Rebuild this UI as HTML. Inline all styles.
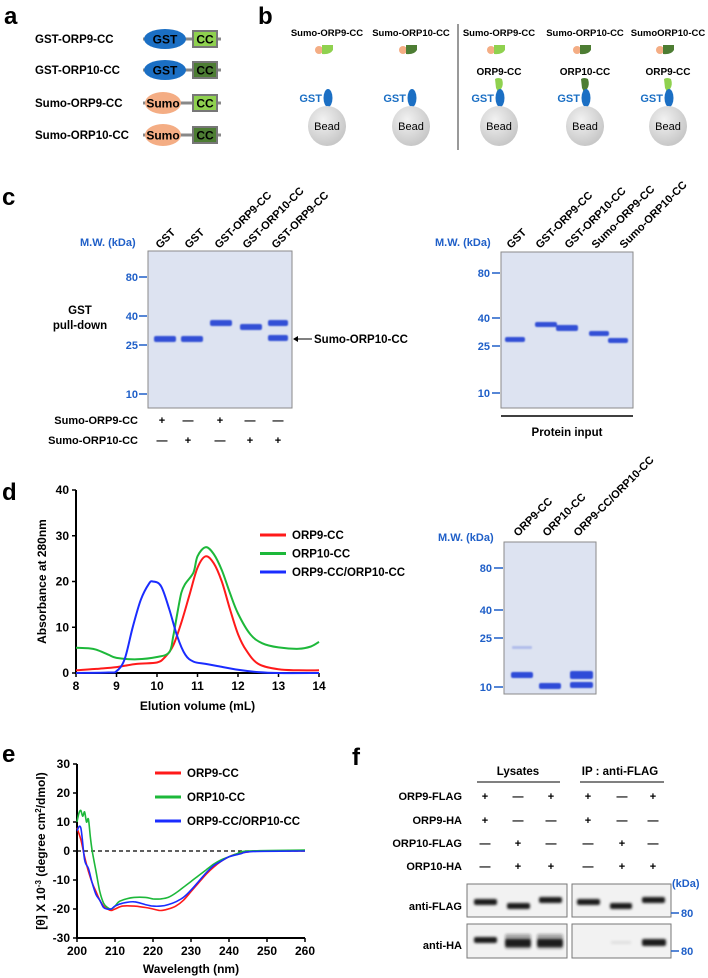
<!DOCTYPE html>
<html><head><meta charset="utf-8">
<style>
html,body{margin:0;padding:0;background:#fff;}
svg{display:block;font-family:"Liberation Sans",Arial,sans-serif;}
.b{font-weight:bold;}
.mw{fill:#1f5fc8;font-weight:bold;font-size:11px;}
</style></head>
<body>
<svg id="fig" width="708" height="978" viewBox="0 0 708 978" xmlns="http://www.w3.org/2000/svg">
<defs>
<filter id="blur1" x="-20%" y="-100%" width="140%" height="300%"><feGaussianBlur stdDeviation="0.9"/></filter>
<filter id="blur2" x="-20%" y="-100%" width="140%" height="300%"><feGaussianBlur stdDeviation="1.2"/></filter>
<radialGradient id="bead" cx="40%" cy="35%" r="70%"><stop offset="0" stop-color="#f2f2f2"/><stop offset="1" stop-color="#c4c4c4"/></radialGradient>
</defs>

<!-- Panel a -->
<g>
<text x="4" y="24" class="b" font-size="24">a</text>
<g font-size="11.5" class="b">
<text x="35" y="43">GST-ORP9-CC</text>
<text x="35" y="74">GST-ORP10-CC</text>
<text x="35" y="107">Sumo-ORP9-CC</text>
<text x="35" y="139">Sumo-ORP10-CC</text>
</g>
<g>
<line x1="143" y1="39" x2="221" y2="39" stroke="#888" stroke-width="3"/>
<ellipse cx="165" cy="39" rx="21" ry="10" fill="#1b6fc4"/><text x="165" y="43.5" text-anchor="middle" font-size="12" class="b">GST</text>
<rect x="193" y="31" width="24" height="16" fill="#8fd14f" stroke="#777" stroke-width="2"/><text x="205" y="43.5" text-anchor="middle" font-size="12" class="b">CC</text>
</g>
<g>
<line x1="143" y1="70" x2="221" y2="70" stroke="#888" stroke-width="3"/>
<ellipse cx="165" cy="70" rx="21" ry="10" fill="#1b6fc4"/><text x="165" y="74.5" text-anchor="middle" font-size="12" class="b">GST</text>
<rect x="193" y="62" width="24" height="16" fill="#4d7d33" stroke="#777" stroke-width="2"/><text x="205" y="74.5" text-anchor="middle" font-size="12" class="b">CC</text>
</g>
<g>
<line x1="143" y1="103" x2="221" y2="103" stroke="#888" stroke-width="3"/>
<ellipse cx="163" cy="103" rx="18" ry="11" fill="#f4ad84"/><text x="163" y="107.5" text-anchor="middle" font-size="12" class="b">Sumo</text>
<rect x="193" y="95" width="24" height="16" fill="#8fd14f" stroke="#777" stroke-width="2"/><text x="205" y="107.5" text-anchor="middle" font-size="12" class="b">CC</text>
</g>
<g>
<line x1="143" y1="135" x2="221" y2="135" stroke="#888" stroke-width="3"/>
<ellipse cx="163" cy="135" rx="18" ry="11" fill="#f4ad84"/><text x="163" y="139.5" text-anchor="middle" font-size="12" class="b">Sumo</text>
<rect x="193" y="127" width="24" height="16" fill="#4d7d33" stroke="#777" stroke-width="2"/><text x="205" y="139.5" text-anchor="middle" font-size="12" class="b">CC</text>
</g>
</g>

<!-- Panel b -->
<g id="panelb">
<text x="258" y="24" class="b" font-size="24">b</text>
<line x1="458" y1="24" x2="458" y2="150" stroke="#777" stroke-width="1.5"/>
</g>

<!-- Panel c -->
<g>
<text x="2" y="205" class="b" font-size="24">c</text>
<text x="80" y="246" class="mw">M.W. (kDa)</text>
<rect x="148" y="251" width="144" height="157" fill="#dde3f1" stroke="#8a8a8a" stroke-width="1"/>
<g class="mw">
<text x="138" y="281" text-anchor="end">80</text><line x1="139" y1="277" x2="147" y2="277" stroke="#1f5fc8" stroke-width="1.5"/>
<text x="138" y="320" text-anchor="end">40</text><line x1="139" y1="316" x2="147" y2="316" stroke="#1f5fc8" stroke-width="1.5"/>
<text x="138" y="349" text-anchor="end">25</text><line x1="139" y1="345" x2="147" y2="345" stroke="#1f5fc8" stroke-width="1.5"/>
<text x="138" y="398" text-anchor="end">10</text><line x1="139" y1="394" x2="147" y2="394" stroke="#1f5fc8" stroke-width="1.5"/>
</g>
<g fill="#3350d6" filter="url(#blur1)">
<rect x="154" y="336" width="22" height="6" rx="2"/>
<rect x="181" y="336" width="22" height="6" rx="2"/>
<rect x="210" y="320" width="22" height="6" rx="2"/>
<rect x="240" y="324" width="22" height="6" rx="2"/>
<rect x="268" y="320" width="20" height="6" rx="2"/>
<rect x="268" y="335" width="20" height="6" rx="2"/>
</g>
<g font-size="11" class="b">
<text transform="translate(160,249) rotate(-45)">GST</text>
<text transform="translate(189,249) rotate(-45)">GST</text>
<text transform="translate(219,249) rotate(-45)">GST-ORP9-CC</text>
<text transform="translate(247,249) rotate(-45)">GST-ORP10-CC</text>
<text transform="translate(276,249) rotate(-45)">GST-ORP9-CC</text>
</g>
<text x="80" y="314" text-anchor="middle" font-size="11.5" class="b">GST</text>
<text x="80" y="329" text-anchor="middle" font-size="11.5" class="b">pull-down</text>
<line x1="296" y1="339" x2="312" y2="339" stroke="#000" stroke-width="1"/>
<path d="M293,339 l5,-3 v6 z" fill="#000"/>
<text x="314" y="343" font-size="11.5" class="b">Sumo-ORP10-CC</text>
<g font-size="11" class="b" id="pmrows">
<text x="138" y="424" text-anchor="end">Sumo-ORP9-CC</text>
<text x="138" y="444" text-anchor="end">Sumo-ORP10-CC</text>
</g>

<text x="435" y="246" class="mw">M.W. (kDa)</text>
<rect x="501" y="252" width="132" height="156" fill="#dde3f1" stroke="#8a8a8a" stroke-width="1"/>
<g class="mw">
<text x="490" y="277" text-anchor="end">80</text><line x1="492" y1="273" x2="500" y2="273" stroke="#1f5fc8" stroke-width="1.5"/>
<text x="490" y="322" text-anchor="end">40</text><line x1="492" y1="318" x2="500" y2="318" stroke="#1f5fc8" stroke-width="1.5"/>
<text x="490" y="350" text-anchor="end">25</text><line x1="492" y1="346" x2="500" y2="346" stroke="#1f5fc8" stroke-width="1.5"/>
<text x="490" y="397" text-anchor="end">10</text><line x1="492" y1="393" x2="500" y2="393" stroke="#1f5fc8" stroke-width="1.5"/>
</g>
<g fill="#3350d6" filter="url(#blur1)">
<rect x="505" y="337" width="20" height="5" rx="2"/>
<rect x="535" y="322" width="22" height="5" rx="2"/>
<rect x="556" y="325" width="22" height="6" rx="2"/>
<rect x="589" y="331" width="20" height="5" rx="2"/>
<rect x="608" y="338" width="20" height="5" rx="2"/>
</g>
<g font-size="11" class="b">
<text transform="translate(511,249) rotate(-45)">GST</text>
<text transform="translate(540,249) rotate(-45)">GST-ORP9-CC</text>
<text transform="translate(569,249) rotate(-45)">GST-ORP10-CC</text>
<text transform="translate(596,249) rotate(-45)">Sumo-ORP9-CC</text>
<text transform="translate(624,249) rotate(-45)">Sumo-ORP10-CC</text>
</g>
<line x1="501" y1="416" x2="633" y2="416" stroke="#000" stroke-width="1.5"/>
<text x="567" y="436" text-anchor="middle" font-size="11.5" class="b">Protein input</text>
</g>

<!-- Panel d -->
<g>
<text x="2" y="500" class="b" font-size="24">d</text>
<g id="chartd"></g>
<text x="438" y="541" class="mw">M.W. (kDa)</text>
<rect x="504" y="542" width="92" height="152" fill="#dde3f1" stroke="#8a8a8a" stroke-width="1"/>
<g class="mw">
<text x="492" y="572" text-anchor="end">80</text><line x1="494" y1="568" x2="503" y2="568" stroke="#1f5fc8" stroke-width="1.5"/>
<text x="492" y="614" text-anchor="end">40</text><line x1="494" y1="610" x2="503" y2="610" stroke="#1f5fc8" stroke-width="1.5"/>
<text x="492" y="642" text-anchor="end">25</text><line x1="494" y1="638" x2="503" y2="638" stroke="#1f5fc8" stroke-width="1.5"/>
<text x="492" y="691" text-anchor="end">10</text><line x1="494" y1="687" x2="503" y2="687" stroke="#1f5fc8" stroke-width="1.5"/>
</g>
<g fill="#2f4bd8" filter="url(#blur1)">
<rect x="512" y="646" width="20" height="3" rx="1" opacity="0.25"/>
<rect x="511" y="672" width="22" height="6" rx="2"/>
<rect x="539" y="683" width="22" height="6" rx="2"/>
<rect x="570" y="671" width="23" height="8" rx="2"/>
<rect x="570" y="682" width="23" height="6" rx="2"/>
</g>
<g font-size="11" class="b">
<text transform="translate(518,537) rotate(-45)">ORP9-CC</text>
<text transform="translate(547,537) rotate(-45)">ORP10-CC</text>
<text transform="translate(578,537) rotate(-45)">ORP9-CC/ORP10-CC</text>
</g>
</g>

<!-- Panel e -->
<g>
<text x="2" y="762" class="b" font-size="24">e</text>
<g id="charte"></g>
</g>

<!-- Panel f -->
<g>
<text x="352" y="765" class="b" font-size="24">f</text>
<text x="518" y="775" text-anchor="middle" font-size="11.5" class="b">Lysates</text>
<line x1="477" y1="782" x2="560" y2="782" stroke="#000" stroke-width="1"/>
<text x="620" y="775" text-anchor="middle" font-size="11.5" class="b">IP : anti-FLAG</text>
<line x1="580" y1="782" x2="664" y2="782" stroke="#000" stroke-width="1"/>
<g font-size="11" class="b" id="frows">
<text x="462" y="800" text-anchor="end">ORP9-FLAG</text>
<text x="462" y="824" text-anchor="end">ORP9-HA</text>
<text x="462" y="847" text-anchor="end">ORP10-FLAG</text>
<text x="462" y="870" text-anchor="end">ORP10-HA</text>
<text x="462" y="910" text-anchor="end">anti-FLAG</text>
<text x="462" y="949" text-anchor="end">anti-HA</text>
</g>
<rect x="467" y="884" width="100" height="33" fill="#f2f2f2" stroke="#777"/>
<rect x="572" y="884" width="99" height="33" fill="#f2f2f2" stroke="#777"/>
<rect x="467" y="924" width="100" height="34" fill="#f2f2f2" stroke="#777"/>
<rect x="572" y="924" width="99" height="34" fill="#f2f2f2" stroke="#777"/>
<g fill="#1a1a1a" filter="url(#blur2)">
<rect x="474" y="899" width="23" height="6" rx="2"/>
<rect x="507" y="903" width="23" height="6" rx="2"/>
<rect x="539" y="897" width="23" height="6" rx="2"/>
<rect x="577" y="899" width="23" height="6" rx="2"/>
<rect x="610" y="903" width="22" height="6" rx="2"/>
<rect x="642" y="897" width="23" height="6" rx="2"/>
<rect x="474" y="937" width="23" height="6" rx="2"/>
<rect x="505" y="934" width="26" height="15" rx="2" opacity="0.35"/>
<rect x="505" y="939" width="26" height="8" rx="2"/>
<rect x="537" y="934" width="26" height="15" rx="2" opacity="0.35"/>
<rect x="537" y="939" width="26" height="8" rx="2"/>
<rect x="611" y="941" width="20" height="3" rx="1" opacity="0.08"/>
<rect x="642" y="939" width="24" height="7" rx="2"/>
</g>
<text x="672" y="887" class="mw" font-size="11">(kDa)</text>
<line x1="671" y1="913" x2="679" y2="913" stroke="#1f5fc8" stroke-width="1.5"/><text x="681" y="917" class="mw">80</text>
<line x1="671" y1="951" x2="679" y2="951" stroke="#1f5fc8" stroke-width="1.5"/><text x="681" y="955" class="mw">80</text>
</g>
</svg>
<script>
const NS="http://www.w3.org/2000/svg";
function mk(parent,tag,attrs,txt){const e=document.createElementNS(NS,tag);for(const k in attrs)e.setAttribute(k,attrs[k]);if(txt!==undefined)e.textContent=txt;parent.appendChild(e);return e;}

/* ---- Panel b data ---- */
const bCols=["Sumo-ORP9-CC","Sumo-ORP10-CC","Sumo-ORP9-CC","Sumo-ORP10-CC","SumoORP10-CC"];
const bBait=["","","ORP9-CC","ORP10-CC","ORP9-CC"];
const bPreyDark=[false,true,false,true,true];
const bBaitDark=[false,false,false,true,false];
const bX=[327,411,499,585,668];
const pb=document.getElementById('panelb');
bCols.forEach((c,i)=>{
  const x=bX[i];
  let t=mk(pb,'text',{x:x,y:36,'text-anchor':'middle','font-size':'9.5','font-weight':'bold'},c);
  
  
  mk(pb,'circle',{cx:x-8,cy:50,r:4,fill:'#f4ad84'});
  mk(pb,'path',{d:`M${x-5},45 h11 v5 q-3,5 -11,4 z`,fill:bPreyDark[i]?'#4d7d33':'#8fd14f'});
  if(bBait[i]){
    mk(pb,'text',{x:x,y:75,'text-anchor':'middle','font-size':'10','font-weight':'bold'},bBait[i]);
    mk(pb,'path',{d:`M${x-4},79 q3,-2 7,0 q2,6 -1,10 q-1,3 -1,7 h-2 q0,-5 -2,-8 z`,fill:bBaitDark[i]?'#4d7d33':'#8fd14f'});
  }
  mk(pb,'ellipse',{cx:x+1,cy:98,rx:4.5,ry:9,fill:'#1b6fc4'});
  mk(pb,'text',{x:x-5,y:102,'text-anchor':'end','font-size':'11','font-weight':'bold',fill:'#1b6fc4'},'GST');
  let bead=mk(pb,'ellipse',{cx:x,cy:126,rx:19,ry:20,fill:'url(#bead)'});
  
  
  mk(pb,'text',{x:x,y:130,'text-anchor':'middle','font-size':'11'},'Bead');
});

/* ---- plus/minus rows ---- */
const cRow1=["+","—","+","—","—"];
const cRow2=["—","+","—","+","+"];
const cX=[162,188,220,250,278];
const pm=document.getElementById('pmrows');
cRow1.forEach((s,i)=>mk(pm,'text',{x:cX[i],y:424,'text-anchor':'middle'},s));
cRow2.forEach((s,i)=>mk(pm,'text',{x:cX[i],y:444,'text-anchor':'middle'},s));
const fRows=[["+","—","+","+","—","+"],["+","—","—","+","—","—"],["—","+","—","—","+","—"],["—","+","+","—","+","+"]];
const fRowY=[800,824,847,870];
const fX=[485,518,551,588,622,653];
const fr=document.getElementById('frows');
fRows.forEach((r,j)=>r.forEach((s,i)=>mk(fr,'text',{x:fX[i],y:fRowY[j],'text-anchor':'middle'},s)));

/* ---- Panel d chart data ---- */
const dRedX=[8,8.5,9,9.5,10,10.2,10.4,10.6,10.8,11,11.2,11.4,11.6,11.8,12,12.2,12.5,13,13.5,14];
const dRedY=[0.6,0.9,1.3,2,2.3,3.5,6,11,17,23,25.5,24,20,14,8.5,5,2,0.8,0.6,0.6];
const dGreenX=[8,8.3,8.5,8.8,9,9.5,10,10.3,10.4,10.5,10.6,10.7,10.9,11,11.2,11.4,11.6,11.8,12,12.3,12.6,13,13.5,13.8,14];
const dGreenY=[5.5,5.4,5.1,4,3.3,3,3.5,4.5,8,13,17.5,19.5,22,25.5,27.5,26,22.5,17.5,13,8.5,6.5,5.6,5.3,5.8,6.8];
const dBlueX=[8,8.8,9,9.2,9.4,9.6,9.8,9.9,10.1,10.3,10.5,10.7,10.9,11.2,11.5,12,12.5,13,14];
const dBlueY=[0,0.1,0.4,3,10,16,19.5,20,19,14,8,4,2.5,2,1.5,0.7,0.2,0,0];
const dXTicks=[8,9,10,11,12,13,14];
const dYTicks=[0,10,20,30,40];
const dLegend=["ORP9-CC","ORP10-CC","ORP9-CC/ORP10-CC"];

/* ---- Panel e chart data ---- */
const eRedX=[200,201,202,203,204,205,206,207,208,209,210,212,215,218,220,222,224,226,228,230,232,234,236,238,240,242,245,248,260];
const eRedY=[8,4,-2,-7,-11,-14,-17,-19,-20,-20.5,-20,-19,-19,-19.5,-20,-20.5,-20,-19,-17,-14,-11,-8,-5.5,-3.5,-2,-1,-0.3,0,0];
const eGreenX=[200,200.5,201,201.5,202,202.5,203,203.5,204,205,206,207,208,209,210,211,213,215,218,220,222,224,226,228,230,232,234,236,238,240,242,245,260];
const eGreenY=[10,13,14,12,13.5,10,11,5,0,-7,-14,-18,-19.5,-20,-19,-17.5,-16.5,-16,-16,-16.5,-16.5,-16,-14.5,-12.5,-10.5,-8.5,-6.5,-4.5,-3,-2,-1,0,0.3];
const eBlueX=[200,201,202,203,204,205,206,207,208,209,210,212,215,218,220,222,224,226,228,230,232,234,236,238,240,243,246,260];
const eBlueY=[7,8,-3,-6,-11,-15,-17,-19.5,-20,-20,-19,-18,-17.5,-18.5,-19,-19,-18.5,-17.5,-16,-13.5,-10.5,-7.5,-5,-3.5,-2,-1,-0.2,0];
const eXTicks=[200,210,220,230,240,250,260];
const eYTicks=[-30,-20,-10,0,10,20,30];

function smoothPath(xs,ys,sx,sy){
  const p=xs.map((x,i)=>[sx(x),sy(ys[i])]);
  let d=`M${p[0][0].toFixed(1)},${p[0][1].toFixed(1)}`;
  for(let i=0;i<p.length-1;i++){
    const p0=p[i-1]||p[i],p1=p[i],p2=p[i+1],p3=p[i+2]||p2;
    const c1=[p1[0]+(p2[0]-p0[0])/6,p1[1]+(p2[1]-p0[1])/6];
    const c2=[p2[0]-(p3[0]-p1[0])/6,p2[1]-(p3[1]-p1[1])/6];
    d+=` C${c1[0].toFixed(1)},${c1[1].toFixed(1)} ${c2[0].toFixed(1)},${c2[1].toFixed(1)} ${p2[0].toFixed(1)},${p2[1].toFixed(1)}`;
  }
  return d;
}

function drawChart(g,o){
  const sx=v=>o.x0+(v-o.xmin)/(o.xmax-o.xmin)*(o.x1-o.x0);
  const sy=v=>o.y0-(v-o.ymin)/(o.ymax-o.ymin)*(o.y0-o.y1);
  let a=mk(g,'line',{x1:o.x0,y1:o.y1,x2:o.x0,y2:o.y0,stroke:'#000','stroke-width':2});
  
  
  a=mk(g,'line',{x1:o.x0-1,y1:o.y0,x2:o.x1,y2:o.y0,stroke:'#000','stroke-width':2});
  
  
  o.xt.forEach(v=>{mk(g,'line',{x1:sx(v),y1:o.y0,x2:sx(v),y2:o.y0+4,stroke:'#000','stroke-width':1.5});
    const t=mk(g,'text',{x:sx(v),y:o.y0+17,'text-anchor':'middle','font-size':'12','font-weight':'bold'},String(v));
    
    });
  o.yt.forEach(v=>{mk(g,'line',{x1:o.x0-4,y1:sy(v),x2:o.x0,y2:sy(v),stroke:'#000','stroke-width':1.5});
    const t=mk(g,'text',{x:o.x0-7,y:sy(v)+4,'text-anchor':'end','font-size':'12','font-weight':'bold'},String(v));
    
    });
  if(o.dash){const z=mk(g,'line',{x1:o.x0,y1:sy(0),x2:o.x1,y2:sy(0),stroke:'#000','stroke-width':1.2,'stroke-dasharray':'4,3'});
    
    }
  o.series.forEach(s=>{const p=mk(g,'path',{d:smoothPath(s.x,s.y,sx,sy),fill:'none',stroke:s.c,'stroke-width':o.lw});
    
    });
  let t=mk(g,'text',{x:(o.x0+o.x1)/2,y:o.xlY,'text-anchor':'middle','font-size':'12','font-weight':'bold'},o.xl);
  
  
  t=mk(g,'text',{transform:`translate(${o.ylX},${(o.y0+o.y1)/2}) rotate(-90)`,'text-anchor':'middle','font-size':'12','font-weight':'bold'});
  
  
  t.innerHTML=o.yl;
  o.series.forEach((s,i)=>{const yy=o.lgY+i*o.lgDy;
    const l=mk(g,'line',{x1:o.lgX,y1:yy,x2:o.lgX+26,y2:yy,stroke:s.c,'stroke-width':3});
    
    
    const lt=mk(g,'text',{x:o.lgX+32,y:yy+4,'font-size':'11.5','font-weight':'bold'},dLegend[i]);
    
    });
}
drawChart(document.getElementById('chartd'),{x0:76,x1:319,y0:673,y1:490,xmin:8,xmax:14,ymin:0,ymax:40,
  xt:dXTicks,yt:dYTicks,lw:2,xl:'Elution volume (mL)',xlY:710,yl:'Absorbance at 280nm',ylX:46,
  lgX:260,lgY:535,lgDy:18.5,
  series:[{x:dRedX,y:dRedY,c:'#ff1a1a',name:'series-orp9-cc'},{x:dGreenX,y:dGreenY,c:'#1db83a',name:'series-orp10-cc'},{x:dBlueX,y:dBlueY,c:'#1a2cff',name:'series-complex'}]});
drawChart(document.getElementById('charte'),{x0:77,x1:305,y0:938,y1:764,xmin:200,xmax:260,ymin:-30,ymax:30,
  xt:eXTicks,yt:eYTicks,lw:1.6,dash:true,xl:'Wavelength (nm)',xlY:973,
  yl:'[θ] X 10<tspan dy="-4" font-size="8">-3</tspan><tspan dy="4"> (degree cm</tspan><tspan dy="-4" font-size="8">2</tspan><tspan dy="4">/dmol)</tspan>',ylX:45,
  lgX:155,lgY:773,lgDy:24,
  series:[{x:eRedX,y:eRedY,c:'#ff1a1a',name:'cd-orp9-cc'},{x:eGreenX,y:eGreenY,c:'#1db83a',name:'cd-orp10-cc'},{x:eBlueX,y:eBlueY,c:'#1a2cff',name:'cd-complex'}]});
</script>
</body></html>
